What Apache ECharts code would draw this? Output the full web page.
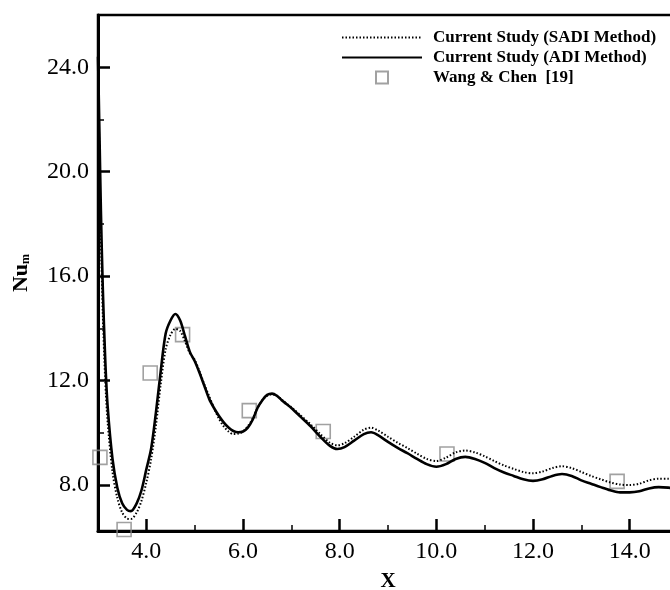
<!DOCTYPE html>
<html>
<head>
<meta charset="utf-8">
<script src="https://cdn.jsdelivr.net/npm/echarts@6/dist/echarts.min.js"></script>
<style>html,body{margin:0;padding:0;background:#fff;}#c{width:670px;height:590px;}</style>
</head>
<body>
<div id="c"></div>
<script>
// X positions sampled along the curves
var xs = [3.00,3.03,3.06,3.10,3.15,3.20,3.30,3.40,3.50,3.60,3.68,3.80,3.90,4.00,4.10,4.20,4.30,4.40,4.50,4.60,4.70,4.80,4.90,5.00,5.10,5.20,5.30,5.40,5.50,5.60,5.70,5.80,5.90,6.00,6.10,6.20,6.30,6.40,6.50,6.60,6.70,6.80,6.90,7.00,7.20,7.40,7.60,7.80,7.95,8.10,8.30,8.50,8.65,8.80,9.00,9.20,9.40,9.60,9.80,10.00,10.20,10.40,10.60,10.80,11.00,11.20,11.40,11.60,11.80,12.00,12.20,12.40,12.60,12.80,13.00,13.20,13.40,13.60,13.80,14.00,14.20,14.40,14.60,14.80,15.00];
// Current Study (ADI Method) - solid
var adi = [24.4,21.5,18.5,15.5,12.8,11.0,9.0,7.9,7.3,7.05,7.0,7.3,7.8,8.6,9.4,10.8,12.4,13.8,14.3,14.55,14.3,13.7,13.1,12.75,12.3,11.8,11.3,10.95,10.65,10.4,10.2,10.07,10.02,10.05,10.2,10.5,10.95,11.25,11.45,11.5,11.42,11.25,11.1,10.95,10.6,10.25,9.85,9.5,9.38,9.45,9.7,9.95,10.02,9.9,9.65,9.42,9.22,9.0,8.8,8.7,8.8,9.0,9.08,9.0,8.85,8.65,8.48,8.35,8.22,8.16,8.22,8.35,8.42,8.35,8.18,8.05,7.92,7.8,7.72,7.72,7.76,7.87,7.92,7.9,7.85];
// Current Study (SADI Method) - dotted
var sadi = [24.0,20.5,17.5,14.5,12.0,10.4,8.5,7.5,6.95,6.72,6.7,6.95,7.4,8.1,9.0,10.3,11.9,13.2,13.75,13.98,13.9,13.5,13.05,12.8,12.35,11.85,11.4,10.95,10.55,10.25,10.05,9.95,9.97,10.05,10.25,10.55,10.95,11.25,11.42,11.48,11.42,11.27,11.12,10.98,10.65,10.32,9.95,9.62,9.52,9.6,9.85,10.12,10.2,10.08,9.85,9.62,9.42,9.2,9.0,8.92,9.05,9.25,9.32,9.25,9.1,8.92,8.75,8.62,8.5,8.45,8.52,8.65,8.72,8.65,8.5,8.35,8.22,8.1,8.02,8.0,8.05,8.18,8.24,8.24,8.2];
// Wang & Chen [19]
var wangX = [3.04,3.54,4.08,4.75,6.13,7.66,10.22,13.74];
var wangY = [9.06,6.3,12.29,13.76,10.85,10.05,9.19,8.14];
// Tick values
var xMajor = [4,6,8,10,12,14];
var xMinor = [5,7,9,11,13,15];
var yMajor = [8,12,16,20,24];
var yMinor = [10,14,18,22];
var names = ['Current Study (SADI Method)', 'Current Study (ADI Method)', 'Wang & Chen  [19]'];

function pairs(a, b) { return a.map(function (v, i) { return [v, b[i]]; }); }

var serif = '"Liberation Serif", "Times New Roman", serif';
var chart = echarts.init(document.getElementById('c'), null, {renderer: 'canvas'});
var xRange = {min: 3, max: 15};
var yRange = {min: 6.24, max: 26};
var hideSym = {color: 'transparent', borderWidth: 0, borderColor: 'transparent'};
chart.setOption({
  animation: false,
  backgroundColor: '#fff',
  grid: {left: 98, top: 15, right: -8, bottom: 59, outerBoundsMode: 'none', containLabel: false,
         show: true, borderColor: '#000', borderWidth: 2.5, backgroundColor: 'transparent'},
  legend: {
    orient: 'vertical', left: 336, top: 24, itemWidth: 80, itemHeight: 12, itemGap: 3,
    textStyle: {fontFamily: serif, fontWeight: 'bold', fontSize: 17, color: '#000', padding: [0, 0, 0, 6]},
    data: [
      {name: names[0], itemStyle: hideSym},
      {name: names[1], itemStyle: hideSym},
      {name: names[2], icon: 'path://M0,0H10V10H0Z'}
    ]
  },
  xAxis: [{
    type: 'value', min: xRange.min, max: xRange.max, position: 'bottom',
    name: 'X', nameLocation: 'middle', nameGap: 40,
    nameTextStyle: {fontFamily: serif, fontWeight: 'bold', fontSize: 21, color: '#000'},
    axisLine: {show: true, lineStyle: {color: '#000', width: 3}},
    axisTick: {show: true, inside: true, length: 12, customValues: xMajor, lineStyle: {color: '#000', width: 2.5}},
    axisLabel: {show: true, customValues: xMajor, margin: 9, fontFamily: serif, fontSize: 24, color: '#000', formatter: function (v) { return v.toFixed(1); }},
    splitLine: {show: false}
  }, {
    type: 'value', min: xRange.min, max: xRange.max, position: 'bottom',
    axisLine: {show: false},
    axisTick: {show: true, inside: true, length: 6, customValues: xMinor, lineStyle: {color: '#000', width: 1.5}},
    axisLabel: {show: false}, splitLine: {show: false}
  }],
  yAxis: [{
    type: 'value', min: yRange.min, max: yRange.max, position: 'left',
    name: '{a|Nu}{b|m}', nameLocation: 'middle', nameGap: 66, nameRotate: 90,
    nameTextStyle: {rich: {
      a: {fontFamily: serif, fontWeight: 'bold', fontSize: 22, color: '#000'},
      b: {fontFamily: serif, fontWeight: 'bold', fontSize: 12, color: '#000', verticalAlign: 'bottom', padding: [8, 0, 0, 0]}
    }},
    axisLine: {show: true, lineStyle: {color: '#000', width: 3}},
    axisTick: {show: true, inside: true, length: 12, customValues: yMajor, lineStyle: {color: '#000', width: 2.5}},
    axisLabel: {show: true, customValues: yMajor, margin: 9, fontFamily: serif, fontSize: 24, color: '#000', formatter: function (v) { return v.toFixed(1); }},
    splitLine: {show: false}
  }, {
    type: 'value', min: yRange.min, max: yRange.max, position: 'left',
    axisLine: {show: false},
    axisTick: {show: true, inside: true, length: 6, customValues: yMinor, lineStyle: {color: '#000', width: 1.5}},
    axisLabel: {show: false}, splitLine: {show: false}
  }],
  series: [{
    name: names[0], type: 'line', xAxisIndex: 0, yAxisIndex: 0,
    data: pairs(xs, sadi), smooth: 0.3, symbol: 'none', clip: true,
    lineStyle: {color: '#000', width: 2, type: [1.5, 2]}, itemStyle: {color: '#000'}
  }, {
    name: names[1], type: 'line', xAxisIndex: 0, yAxisIndex: 0,
    data: pairs(xs, adi), smooth: 0.3, symbol: 'none', clip: true,
    lineStyle: {color: '#000', width: 2.6}, itemStyle: {color: '#000'}
  }, {
    name: names[2], type: 'scatter', xAxisIndex: 0, yAxisIndex: 0,
    data: pairs(wangX, wangY), symbol: 'rect', symbolSize: 14, clip: false,
    itemStyle: {color: 'transparent', borderColor: '#8a8a8a', borderWidth: 1.6}
  }]
});
</script>
</body>
</html>
